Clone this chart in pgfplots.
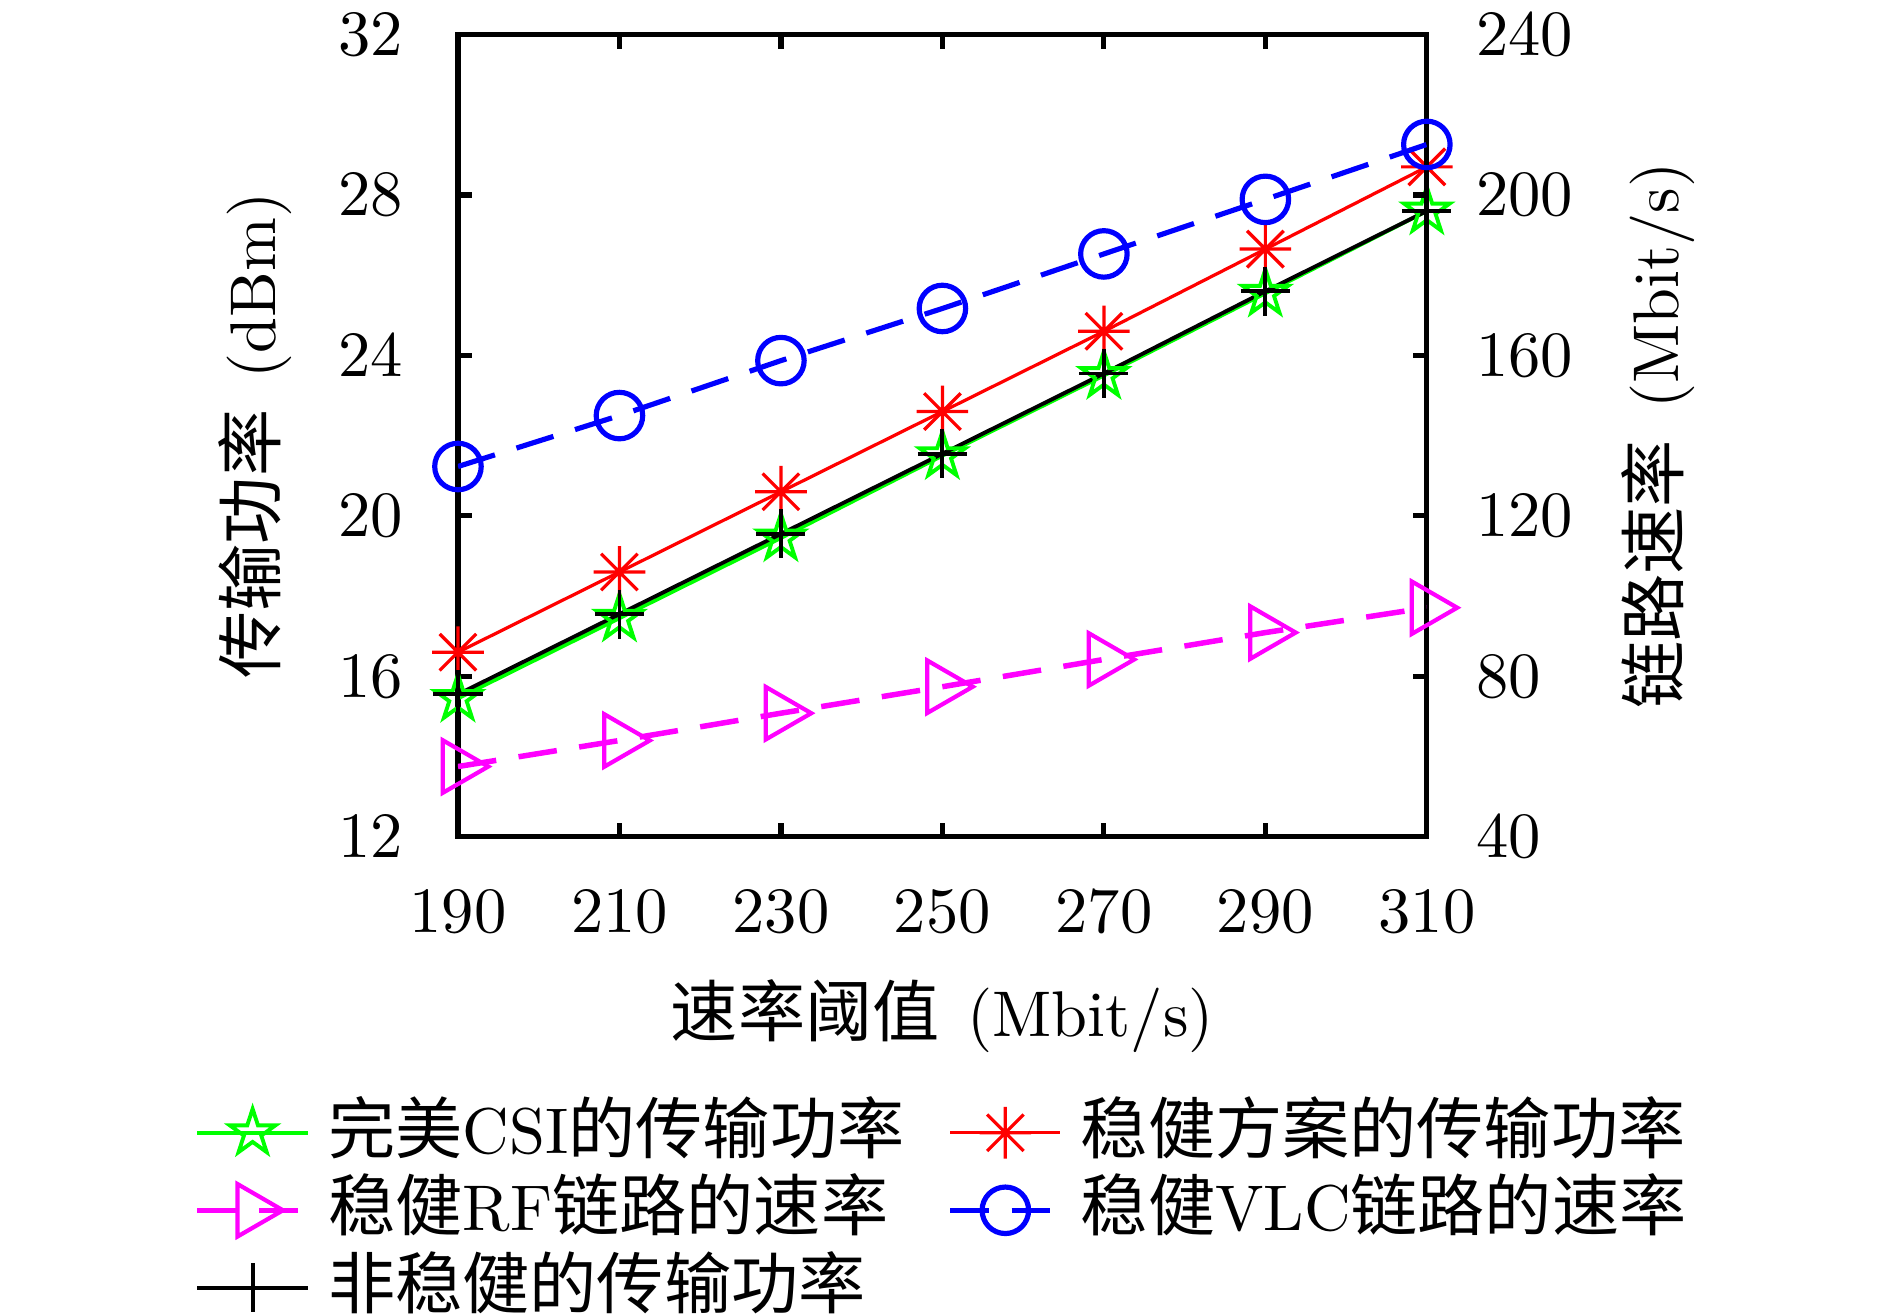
\documentclass[border=0pt]{standalone}
\usepackage{fontspec}
\usepackage{pgfplots}
\pgfplotsset{compat=1.18}
\newfontfamily\cjk[Scale=1.04]{Noto Sans CJK SC}
\pgfdeclareplotmark{pentagram}{%
  \pgfpathmoveto{\pgfpointpolar{90}{\pgfplotmarksize}}%
  \pgfpathlineto{\pgfpointpolar{126}{0.382\pgfplotmarksize}}%
  \pgfpathlineto{\pgfpointpolar{162}{\pgfplotmarksize}}%
  \pgfpathlineto{\pgfpointpolar{198}{0.382\pgfplotmarksize}}%
  \pgfpathlineto{\pgfpointpolar{234}{\pgfplotmarksize}}%
  \pgfpathlineto{\pgfpointpolar{270}{0.382\pgfplotmarksize}}%
  \pgfpathlineto{\pgfpointpolar{306}{\pgfplotmarksize}}%
  \pgfpathlineto{\pgfpointpolar{342}{0.382\pgfplotmarksize}}%
  \pgfpathlineto{\pgfpointpolar{18}{\pgfplotmarksize}}%
  \pgfpathlineto{\pgfpointpolar{54}{0.382\pgfplotmarksize}}%
  \pgfpathclose\pgfusepathqstroke}
\pgfdeclareplotmark{plusx}{%
  \pgfpathmoveto{\pgfqpoint{-\pgfplotmarksize}{0pt}}\pgfpathlineto{\pgfqpoint{\pgfplotmarksize}{0pt}}%
  \pgfpathmoveto{\pgfqpoint{0pt}{-\pgfplotmarksize}}\pgfpathlineto{\pgfqpoint{0pt}{\pgfplotmarksize}}%
  \pgfpathmoveto{\pgfqpoint{-.707\pgfplotmarksize}{-.707\pgfplotmarksize}}\pgfpathlineto{\pgfqpoint{.707\pgfplotmarksize}{.707\pgfplotmarksize}}%
  \pgfpathmoveto{\pgfqpoint{-.707\pgfplotmarksize}{.707\pgfplotmarksize}}\pgfpathlineto{\pgfqpoint{.707\pgfplotmarksize}{-.707\pgfplotmarksize}}%
  \pgfusepathqstroke}
\definecolor{cgreen}{RGB}{0,255,0}
\definecolor{cred}{RGB}{255,0,0}
\definecolor{cmag}{RGB}{255,0,255}
\definecolor{cblue}{RGB}{0,0,255}
\pgfplotsset{
  greenstyle/.style={cgreen, line width=0.6pt, mark=pentagram, mark size=3.7pt, mark options={solid}},
  redstyle/.style={cred, line width=0.5pt, mark=plusx, mark size=4pt, mark options={solid}},
  blackstyle/.style={black, line width=0.6pt, mark=+, mark size=3.8pt, mark options={solid}},
  magstyle/.style={cmag, line width=0.85pt, dash pattern=on 6pt off 3.5pt, mark=triangle, mark size=4.7pt, mark options={solid, rotate=-90, line width=0.65pt}},
  bluestyle/.style={cblue, line width=0.8pt, dash pattern=on 6pt off 3.5pt, mark=o, mark size=3.6pt, mark options={solid, line width=0.8pt}},
}
\begin{document}
\begin{tikzpicture}
\begin{axis}[
  at={(0,0)}, anchor=south west,
  scale only axis, width=150pt, height=124.2pt,
  xmin=190, xmax=310, ymin=12, ymax=32,
  xtick={190,210,230,250,270,290,310},
  ytick={12,16,20,24,28,32},
  tick align=inside, xtick pos=both, ytick pos=left,
  major tick length=2.2pt,
  axis line style={line width=0.8pt},
  every tick/.style={black, line width=0.8pt},
  xticklabel style={yshift=-4.9pt},
  yticklabel style={xshift=-5pt},
  xlabel={{\cjk 速率阈值}\hspace{1pt} (Mbit/s)},
  xlabel style={at={(axis description cs:0.5,-0.223)}, anchor=center},
  ylabel={{\cjk 传输功率}\hspace{1.5pt} (dBm)},
  ylabel style={at={(axis description cs:-0.209,0.5)}, anchor=center},
]
\addplot[greenstyle] coordinates {(190,15.45) (210,17.45) (230,19.45) (250,21.5) (270,23.5) (290,25.55) (310,27.6)};
\addplot[redstyle] coordinates {(190,16.6) (210,18.6) (230,20.6) (250,22.6) (270,24.6) (290,26.65) (310,28.7)};
\addplot[blackstyle] coordinates {(190,15.55) (210,17.55) (230,19.55) (250,21.55) (270,23.55) (290,25.6) (310,27.6)};
\end{axis}
\begin{axis}[
  at={(0,0)}, anchor=south west,
  scale only axis, width=150pt, height=124.2pt,
  xmin=190, xmax=310, ymin=40, ymax=240,
  ytick={40,80,120,160,200,240},
  axis x line=none, axis y line*=right,
  tick align=inside,
  major tick length=2.2pt,
  axis line style={line width=0.8pt, -},
  every tick/.style={black, line width=0.8pt},
  yticklabel style={xshift=4.1pt},
  ylabel={{\cjk 链路速率}\hspace{1.5pt} (Mbit/s)},
  ylabel style={at={(axis description cs:1.239,0.5)}, anchor=center},
  legend columns=2,
  legend cell align=left,
  legend style={at={(axis description cs:-0.293,-0.303)}, anchor=north west, draw=none, fill=none,
    nodes={inner ysep=0.6pt, text height=8.6pt, text depth=2.2pt},
    /tikz/every odd column/.append style={column sep=0.75pt},
    /tikz/every even column/.append style={column sep=4.7pt}},
]
\addlegendimage{greenstyle}
\addlegendentry{{\cjk 完美}CSI{\cjk 的传输功率}}
\addlegendimage{redstyle}
\addlegendentry{{\cjk 稳健方案的传输功率}}
\addplot[magstyle] coordinates {(190,57.5) (210,64) (230,70.8) (250,77.4) (270,84.2) (290,90.9) (310,97.1)};
\addlegendentry{{\cjk 稳健}RF{\cjk 链路的速率}}
\addplot[bluestyle] coordinates {(190,132.3) (210,145) (230,158.7) (250,171.7) (270,185.3) (290,198.9) (310,212.6)};
\addlegendentry{{\cjk 稳健}VLC{\cjk 链路的速率}}
\addlegendimage{blackstyle}
\addlegendentry{{\cjk 非稳健的传输功率}}
\end{axis}
\pgfresetboundingbox
\path (-70.9pt,-74.15pt) rectangle (221.7pt,129.54pt);
\end{tikzpicture}
\end{document}
